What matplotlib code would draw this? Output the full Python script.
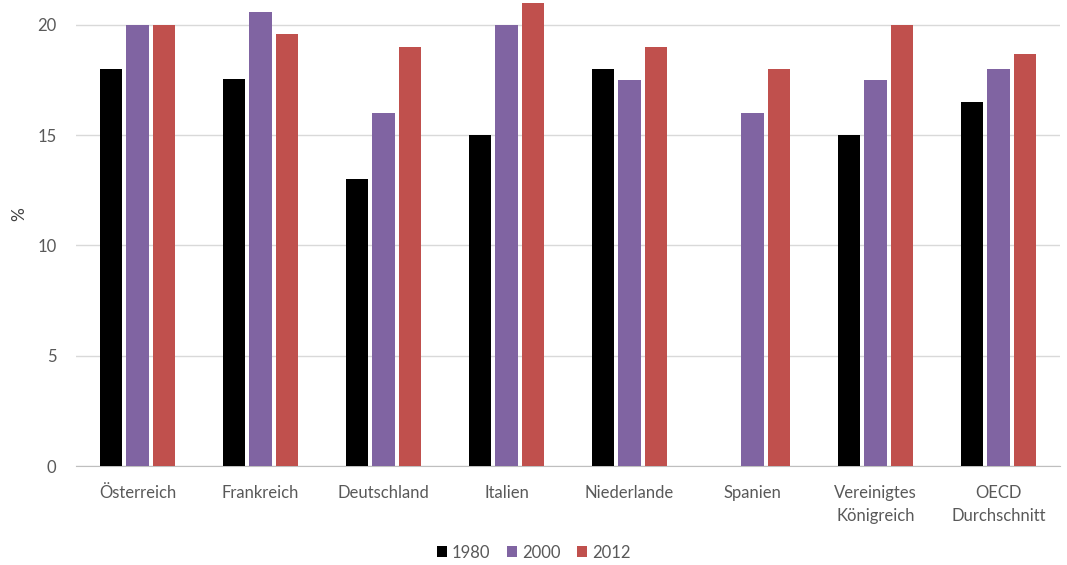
import numpy as np
import matplotlib
matplotlib.use('Agg')
import matplotlib.pyplot as plt

# Anteil (%) je Land und Jahr
countries = ["Österreich", "Frankreich", "Deutschland", "Italien", "Niederlande",
             "Spanien", "Vereinigtes\nKönigreich", "OECD\nDurchschnitt"]
years = ["1980", "2000", "2012"]
v1980 = [18.0, 17.55, 13.0, 15.0, 18.0, np.nan, 15.0, 16.5]
v2000 = [20.0, 20.6, 16.0, 20.0, 17.5, 16.0, 17.5, 18.0]
v2012 = [20.0, 19.6, 19.0, 21.0, 19.0, 18.0, 20.0, 18.7]
yticks = [0, 5, 10, 15, 20]

colors = ["#000000", "#8064a2", "#c0504d"]
text_col = "#595959"

plt.rcParams['font.family'] = ['Lato', 'DejaVu Sans']

fig = plt.figure(figsize=(10.67, 5.65), dpi=100)
ax = fig.add_axes([0.0712, 0.1752, 0.9222, 0.8248])

x = np.arange(len(countries))
width = 0.18
step = 0.215
for i, (vals, yr) in enumerate(zip([v1980, v2000, v2012], years)):
    ax.bar(x + (i - 1) * step, vals, width, color=colors[i], label=yr, zorder=3)

ax.set_xlim(-0.5, len(countries) - 0.5)
ax.set_ylim(0, 21.13)
ax.set_yticks(yticks)
ax.set_xticks(x)
ax.set_xticklabels(countries, fontsize=12, color=text_col, linespacing=1.5)
ax.tick_params(axis='both', length=0, colors=text_col, labelsize=12)
ax.tick_params(axis='x', pad=14)
ax.tick_params(axis='y', pad=14)
ax.grid(axis='y', color="#d9d9d9", linewidth=1, zorder=0)
ax.set_axisbelow(True)

for s in ["top", "right", "left"]:
    ax.spines[s].set_visible(False)
ax.spines["bottom"].set_color("#bfbfbf")

ax.set_ylabel("%", fontsize=12.5, color="#404040")
ax.yaxis.set_label_coords(-0.05, 0.54)

handles, labels = ax.get_legend_handles_labels()
fig.legend(handles, labels, loc="center", bbox_to_anchor=(0.5, 0.022), ncol=3,
           frameon=False, fontsize=12, handlelength=0.6, handleheight=0.6,
           handletextpad=0.3, columnspacing=1.0, labelcolor=text_col)

fig.savefig("out.png", dpi=100, facecolor="white")
